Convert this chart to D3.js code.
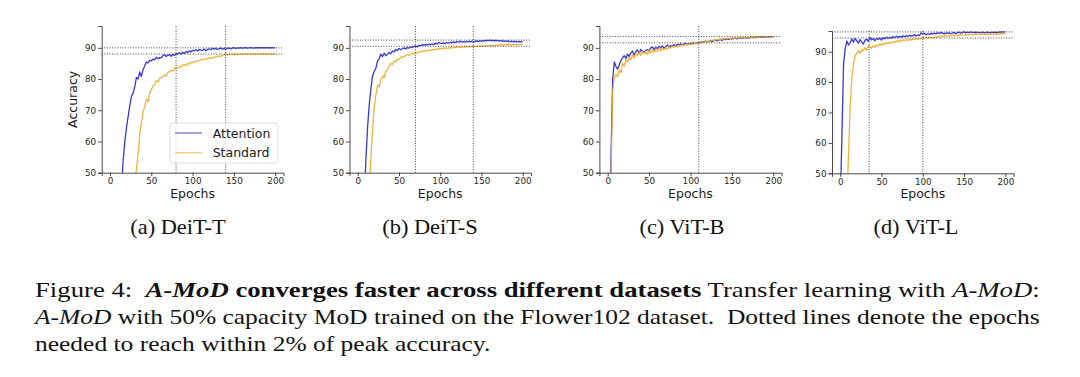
<!DOCTYPE html>
<html>
<head>
<meta charset="utf-8">
<script src="https://cdn.jsdelivr.net/npm/d3@7"></script>
<style>
  body { margin: 0; background: #fff; }
  svg { display: block; }
</style>
</head>
<body>
<svg id="fig" width="1080" height="377"></svg>
<script>
// ---- data ----
const epochs = d3.range(0, 201, 2);
const xTicks = [0, 50, 100, 150, 200];
const yTicks = [50, 60, 70, 80, 90];
const seriesNames = ['Attention', 'Standard'];
const panelTitles = ['(a) DeiT-T', '(b) DeiT-S', '(c) ViT-B', '(d) ViT-L'];

const deitT_attention = [
  3, 6, 10, 15, 21, 28, 36, 46, 54, 60,
  64.5, 68, 71.5, 74.5, 75.5, 77.5, 80.5, 80, 82.3, 80.8,
  83, 84.2, 85.5, 85.2, 86, 85.8, 86.4, 86.1, 87, 86.5,
  86.9, 86.8, 87.5, 87.9, 87.2, 87.6, 87.8, 87.3, 87.9, 87.6,
  88.1, 88, 88.4, 88, 88.6, 88.2, 88.8, 88.5, 89, 88.7,
  89.2, 89.1, 89.4, 89, 89.5, 89.3, 89.2, 89.6, 89.1, 89.5,
  89.7, 89.4, 89.8, 89.6, 89.9, 89.5, 89.7, 89.9, 89.6, 89.8,
  89.5, 89.8, 90, 89.7, 89.9, 90.1, 89.8, 90, 89.9, 90.1,
  89.9, 90, 90.1, 89.9, 90, 90.1, 90, 89.9, 90.1, 90,
  90.1, 90, 90.1, 90, 90.1, 90, 90.1, 90, 90.1, 90,
  90
];
const deitT_standard = [
  2, 3, 4, 6, 8, 10, 13, 16, 19, 22,
  26, 29, 33, 37, 41, 45.5, 51, 56, 62, 66,
  69.5, 71, 73.5, 72.8, 75.5, 76.5, 77.8, 78.2, 79.5, 79,
  80.2, 80.5, 80.9, 81.3, 81, 82, 82.4, 82.8, 82.5, 83.3,
  83.6, 83.5, 84, 83.8, 84.5, 84.6, 84.3, 85, 84.8, 85.4,
  85.2, 85.7, 85.5, 86, 85.8, 86.1, 86.3, 86.2, 86.6, 86.4,
  86.8, 86.9, 86.7, 87.1, 87, 87.3, 87.4, 87.2, 87.6, 87.7,
  88, 87.7, 87.9, 88, 87.8, 88, 88.1, 87.9, 88, 88.1,
  88, 87.9, 88.1, 88, 88.1, 88, 87.9, 88.1, 88, 88.1,
  88, 88.1, 88, 88.2, 88, 88.1, 88, 88.1, 88, 88.1,
  88
];
const deitS_attention = [
  5, 12, 20, 30, 42, 55, 65, 72, 77, 81,
  82.5, 83.5, 85.8, 86.5, 88, 87.2, 88.3, 87.5, 87.9, 88.5,
  88.1, 89, 88.7, 89.5, 89.1, 89.8, 89.4, 89.7, 90, 89.6,
  90.1, 89.9, 90.3, 90.1, 90.4, 90.6, 90.3, 90.8, 90.6, 91,
  90.8, 91.1, 90.9, 91.2, 91, 91.3, 91, 91.5, 91.2, 91.7,
  91.5, 91.4, 91.6, 91.3, 91.7, 91.5, 91.8, 91.6, 91.9, 91.7,
  92, 91.8, 92.1, 91.9, 92, 91.8, 92.1, 92, 91.9, 92.1,
  91.8, 92, 92.2, 92, 92.3, 92.1, 92.3, 92.2, 92.4, 92.3,
  92.5, 92.3, 92.4, 92.2, 92.4, 92.3, 92.2, 92.3, 92.1, 92.2,
  92.1, 92.2, 92, 92.1, 92, 92.1, 92, 91.9, 92, 91.9,
  92
];
const deitS_standard = [
  2, 5, 9, 14, 20, 28, 37, 46, 55, 64,
  71, 75, 78, 77.5, 80, 81, 80.5, 82.5, 83, 84.2,
  85, 84.6, 85.8, 85.5, 86.4, 86.2, 86.9, 87.2, 87, 87.6,
  87.8, 87.5, 88, 88.3, 88.1, 88.5, 88.4, 88.8, 88.6, 89,
  88.8, 89.1, 89, 89.3, 89.1, 89.5, 89.3, 89.6, 89.4, 89.8,
  89.6, 89.9, 89.7, 90, 89.8, 90, 89.9, 90.2, 90, 90.2,
  90.1, 90.3, 90.1, 90.3, 90.2, 90.4, 90.3, 90.4, 90.3, 90.4,
  90.6, 90.4, 90.5, 90.6, 90.4, 90.6, 90.5, 90.7, 90.6, 90.7,
  90.8, 90.6, 90.8, 90.7, 90.9, 90.8, 90.9, 91, 90.8, 91,
  90.9, 91, 91.1, 90.9, 91, 91.1, 91, 91.1, 91, 91.1,
  91
];
const vitB_attention = [
  5, 20, 55, 80, 85.5, 84, 83.2, 84.5, 86, 86.8,
  87.5, 86.6, 88, 87.2, 88.4, 89, 87.6, 88.8, 89.3, 88.2,
  89.5, 89, 88.6, 89.2, 89.4, 89.1, 90, 90.3, 89.4, 90.2,
  89.8, 90.5, 90, 90.6, 89.9, 90.4, 90.9, 90.2, 90.7, 90.5,
  91, 90.6, 91.1, 90.8, 91.3, 91, 91.2, 91.4, 91.1, 91.3,
  91.3, 91.5, 91.5, 91.4, 91.5, 91.8, 91.7, 92, 91.8, 92.2,
  91.9, 92.1, 92.4, 92, 92.3, 92.6, 92.2, 92.5, 92.7, 92.4,
  92.8, 92.6, 92.9, 92.7, 93, 92.8, 93, 93.1, 92.9, 93.1,
  93.2, 93, 93.2, 93.3, 93.1, 93.3, 93.2, 93.4, 93.3, 93.4,
  93.3, 93.5, 93.4, 93.5, 93.4, 93.5, 93.6, 93.4, 93.5, 93.6,
  93.5
];
const vitB_standard = [
  3, 15, 48, 76, 80.5, 81.5, 80.8, 83, 82, 85,
  84.2, 86.3, 85.5, 87, 86.2, 87.8, 86.8, 88.3, 87.4, 88.6,
  87.6, 88.8, 88, 89, 87.8, 89.2, 88.4, 89.4, 88.6, 89.5,
  88.9, 89.8, 89, 90, 89.3, 90.1, 89.6, 90.3, 89.9, 90.5,
  90.1, 90.6, 90.3, 90.8, 90.5, 91, 90.7, 91.1, 90.9, 91.2,
  91, 91.3, 91.2, 91.4, 91.3, 91.7, 91.5, 91.9, 91.7, 92.1,
  91.9, 92.3, 92.2, 92.5, 92.3, 92.7, 92.5, 92.8, 92.7, 92.9,
  92.8, 93, 92.9, 93.1, 93, 93.2, 93.1, 93.2, 93.1, 93.3,
  93.2, 93.3, 93.2, 93.4, 93.3, 93.4, 93.3, 93.5, 93.4, 93.5,
  93.4, 93.5, 93.4, 93.6, 93.5, 93.5, 93.6, 93.5, 93.6, 93.5,
  93.6
];
const vitL_attention = [
  40, 62, 86, 91, 93.5, 92.2, 93, 94.2, 93.1, 94.3,
  93.6, 92.8, 94, 93.2, 92.5, 93.8, 94.1, 93.4, 94.6, 93.9,
  94.3, 93.6, 94.4, 94, 94.5, 93.8, 94.6, 94.2, 94.8, 94.3,
  94.7, 94.4, 95, 94.6, 95.1, 94.7, 95, 94.8, 95.2, 94.9,
  95.3, 95, 95.4, 95.1, 95.3, 95.6, 95.2, 95.5, 95.3, 96.2,
  95.8, 96, 95.6, 95.9, 95.7, 96, 95.8, 96.1, 95.9, 96.2,
  96, 96.3, 96.1, 95.8, 96.2, 96, 96.2, 95.9, 96.1, 96.3,
  96, 96.2, 96.4, 96.1, 96.3, 96.5, 96.2, 96.4, 96.3, 96.5,
  96.3, 96.4, 96.2, 96.4, 96.3, 96.2, 96.4, 96.3, 96.2, 96.4,
  96.3, 96.2, 96.4, 96.3, 96.4, 96.3, 96.4, 96.5, 96.4, 96.5,
  96.5
];
const vitL_standard = [
  3, 8, 15, 25, 40, 56, 72, 81, 86, 88.6,
  89.5, 90.3, 89.4, 90.8, 90.2, 91.3, 90.5, 91.8, 91.6, 91.1,
  92, 91.5, 92.3, 91.9, 92.6, 92.1, 92.8, 92.4, 93, 92.6,
  93.2, 92.8, 93.4, 93, 93.6, 93.2, 93.8, 93.4, 93.9, 93.6,
  94, 93.7, 94.1, 93.8, 94.2, 93.9, 94.3, 94, 94.2, 94.4,
  94.6, 94.3, 94.6, 94.4, 94.8, 94.5, 94.8, 94.6, 95, 94.7,
  95.1, 94.9, 95.2, 95, 95.3, 95.1, 95.3, 95.2, 95.4, 95.2,
  95.5, 95.3, 95.5, 95.4, 95.6, 95.4, 95.6, 95.5, 95.7, 95.5,
  95.7, 95.6, 95.7, 95.6, 95.8, 95.6, 95.8, 95.7, 95.8, 95.7,
  95.9, 95.7, 95.8, 95.9, 95.8, 95.9, 95.8, 95.9, 96, 95.9,
  96
];

// peak accuracy and peak - 2 (dotted horizontals), epochs reaching it (dotted verticals)
const peakLevels = [[90, 88], [92.5, 90.5], [93.6, 91.6], [96.5, 94.5]];
const convergeEpochs = [[80, 140], [70, 140], [110], [35, 100]];

const panelSeries = [
  [deitT_attention, deitT_standard],
  [deitS_attention, deitS_standard],
  [vitB_attention, vitB_standard],
  [vitL_attention, vitL_standard]
];

// ---- layout ----
const colors = { Attention: '#2222cc', Standard: '#f2a824' };
const panelLayout = [
  { left: 101.7, right: 283.5, top: 26, bottom: 172.7, ymax: 97, capX: 178 },
  { left: 349.5, right: 531.0, top: 26, bottom: 172.7, ymax: 97, capX: 430 },
  { left: 599.4, right: 781.6, top: 26, bottom: 172.7, ymax: 97, capX: 682 },
  { left: 832.0, right: 1013.6, top: 31, bottom: 173.3, ymax: 96.8, capX: 916 }
];

const svg = d3.select('#fig');

class CurvePanel {
  constructor(config, data) {
    this.config = config;
    this.data = data;
    this.init();
  }

  init() {
    let self = this;
    const c = self.config;

    self.chart = svg.append('g');

    self.xscale = d3.scaleLinear()
      .domain([-10, 210])
      .range([c.left, c.right]);

    self.yscale = d3.scaleLinear()
      .domain([50, c.ymax])
      .range([c.bottom, c.top]);

    self.line = d3.line()
      .x(d => self.xscale(d.epoch))
      .y(d => self.yscale(d.acc));

    self.chart.append('clipPath')
      .attr('id', `clip${c.index}`)
      .append('rect')
      .attr('x', c.left)
      .attr('y', c.top)
      .attr('width', c.right - c.left)
      .attr('height', c.bottom - c.top);
  }

  render() {
    let self = this;
    const c = self.config;

    const plot = self.chart.append('g')
      .attr('clip-path', `url(#clip${c.index})`);

    self.data.forEach((values, i) => {
      const rows = values.map((v, j) => ({ epoch: epochs[j], acc: v }));
      plot.append('path')
        .attr('d', self.line(rows))
        .attr('fill', 'none')
        .attr('stroke', colors[seriesNames[i]])
        .attr('stroke-width', 1.3)
        .attr('stroke-opacity', 0.9)
        .attr('stroke-linejoin', 'round');
    });

    // dotted reference lines
    c.levels.forEach(v => {
      plot.append('line')
        .attr('x1', c.left).attr('x2', c.right)
        .attr('y1', self.yscale(v)).attr('y2', self.yscale(v))
        .attr('stroke', '#444')
        .attr('stroke-width', 1)
        .attr('stroke-dasharray', '1,1.6');
    });
    c.marks.forEach(e => {
      plot.append('line')
        .attr('x1', self.xscale(e)).attr('x2', self.xscale(e))
        .attr('y1', c.top).attr('y2', c.bottom)
        .attr('stroke', '#444')
        .attr('stroke-width', 1)
        .attr('stroke-dasharray', '1,1.6');
    });

    const xaxis = d3.axisBottom(self.xscale)
      .tickValues(xTicks)
      .tickSizeOuter(0)
      .tickSize(3.5)
      .tickPadding(2);
    const yaxis = d3.axisLeft(self.yscale)
      .tickValues(yTicks)
      .tickSizeOuter(0)
      .tickSize(3.5)
      .tickPadding(2);

    const gx = self.chart.append('g')
      .attr('transform', `translate(0, ${c.bottom})`)
      .call(xaxis);
    const gy = self.chart.append('g')
      .attr('transform', `translate(${c.left}, 0)`)
      .call(yaxis);

    [gx, gy].forEach(g => {
      g.select('.domain').attr('stroke', '#333').attr('stroke-width', 0.9);
      g.selectAll('.tick line').attr('stroke', '#333').attr('stroke-width', 0.9);
      g.selectAll('text')
        .attr('fill', '#262626')
        .style('font-family', '"DejaVu Sans", sans-serif')
        .style('font-size', '8.8px');
    });

    self.chart.append('text')
      .attr('x', (c.left + c.right) / 2)
      .attr('y', 198)
      .attr('text-anchor', 'middle')
      .attr('fill', '#1a1a1a')
      .style('font-family', '"DejaVu Sans", sans-serif')
      .style('font-size', '12.5px')
      .text('Epochs');

    if (c.ylabel) {
      self.chart.append('text')
        .attr('transform', `translate(76.5, ${(c.top + c.bottom) / 2}) rotate(-90)`)
        .attr('text-anchor', 'middle')
        .attr('fill', '#1a1a1a')
        .style('font-family', '"DejaVu Sans", sans-serif')
        .style('font-size', '12.5px')
        .text(c.ylabel);
    }

    if (c.legend) {
      const lg = self.chart.append('g');
      lg.append('rect')
        .attr('x', 170).attr('y', 123)
        .attr('width', 108).attr('height', 40)
        .attr('rx', 2.5)
        .attr('fill', '#fff').attr('fill-opacity', 0.8)
        .attr('stroke', '#d4d4d4').attr('stroke-width', 0.8);
      seriesNames.forEach((name, i) => {
        const y = 133 + i * 19.7;
        lg.append('line')
          .attr('x1', 175).attr('x2', 202)
          .attr('y1', y).attr('y2', y)
          .attr('stroke', colors[name])
          .attr('stroke-opacity', 0.65)
          .attr('stroke-width', 1.3);
        lg.append('text')
          .attr('x', 212.7).attr('y', y + 4.5)
          .attr('fill', '#1a1a1a')
          .style('font-family', '"DejaVu Sans", sans-serif')
          .style('font-size', '12.5px')
          .text(name);
      });
    }

    // sub-caption
    svg.append('text')
      .attr('transform', `translate(${c.capX}, 234) scale(1.12, 1)`)
      .attr('text-anchor', 'middle')
      .attr('fill', '#111')
      .style('font-family', '"Liberation Serif", "Times New Roman", serif')
      .style('font-size', '20px')
      .text(c.title);
  }
}

panelLayout.forEach((p, i) => {
  const panel = new CurvePanel(Object.assign({}, p, {
    index: i,
    title: panelTitles[i],
    levels: peakLevels[i],
    marks: convergeEpochs[i],
    ylabel: i === 0 ? 'Accuracy' : null,
    legend: i === 0
  }), panelSeries[i]);
  panel.render();
});

// ---- figure caption ----
const captionLines = [
  { y: 297, width: 1005, parts: [
    ['Figure 4:  ', 'normal', 'normal'],
    ['A-MoD', 'bold', 'italic'],
    [' converges faster across different datasets', 'bold', 'normal'],
    [' Transfer learning with ', 'normal', 'normal'],
    ['A-MoD', 'normal', 'italic'],
    [':', 'normal', 'normal']
  ]},
  { y: 324, width: 1005, parts: [
    ['A-MoD', 'normal', 'italic'],
    [' with 50% capacity MoD trained on the Flower102 dataset.  Dotted lines denote the epochs', 'normal', 'normal']
  ]},
  { y: 351, width: null, parts: [
    ['needed to reach within 2% of peak accuracy.', 'normal', 'normal']
  ]}
];

let lastScale = 1.15;
captionLines.forEach(line => {
  const t = svg.append('text')
    .attr('fill', '#111')
    .style('font-family', '"Liberation Serif", "Times New Roman", serif')
    .style('font-size', '22px')
    .attr('xml:space', 'preserve')
    .style('white-space', 'pre');
  line.parts.forEach(p => {
    t.append('tspan')
      .style('font-weight', p[1])
      .style('font-style', p[2])
      .text(p[0]);
  });
  const w = t.node().getComputedTextLength();
  const s = line.width ? line.width / w : lastScale;
  lastScale = s;
  t.attr('transform', `translate(35, ${line.y}) scale(${s}, 1)`);
});
</script>
</body>
</html>
